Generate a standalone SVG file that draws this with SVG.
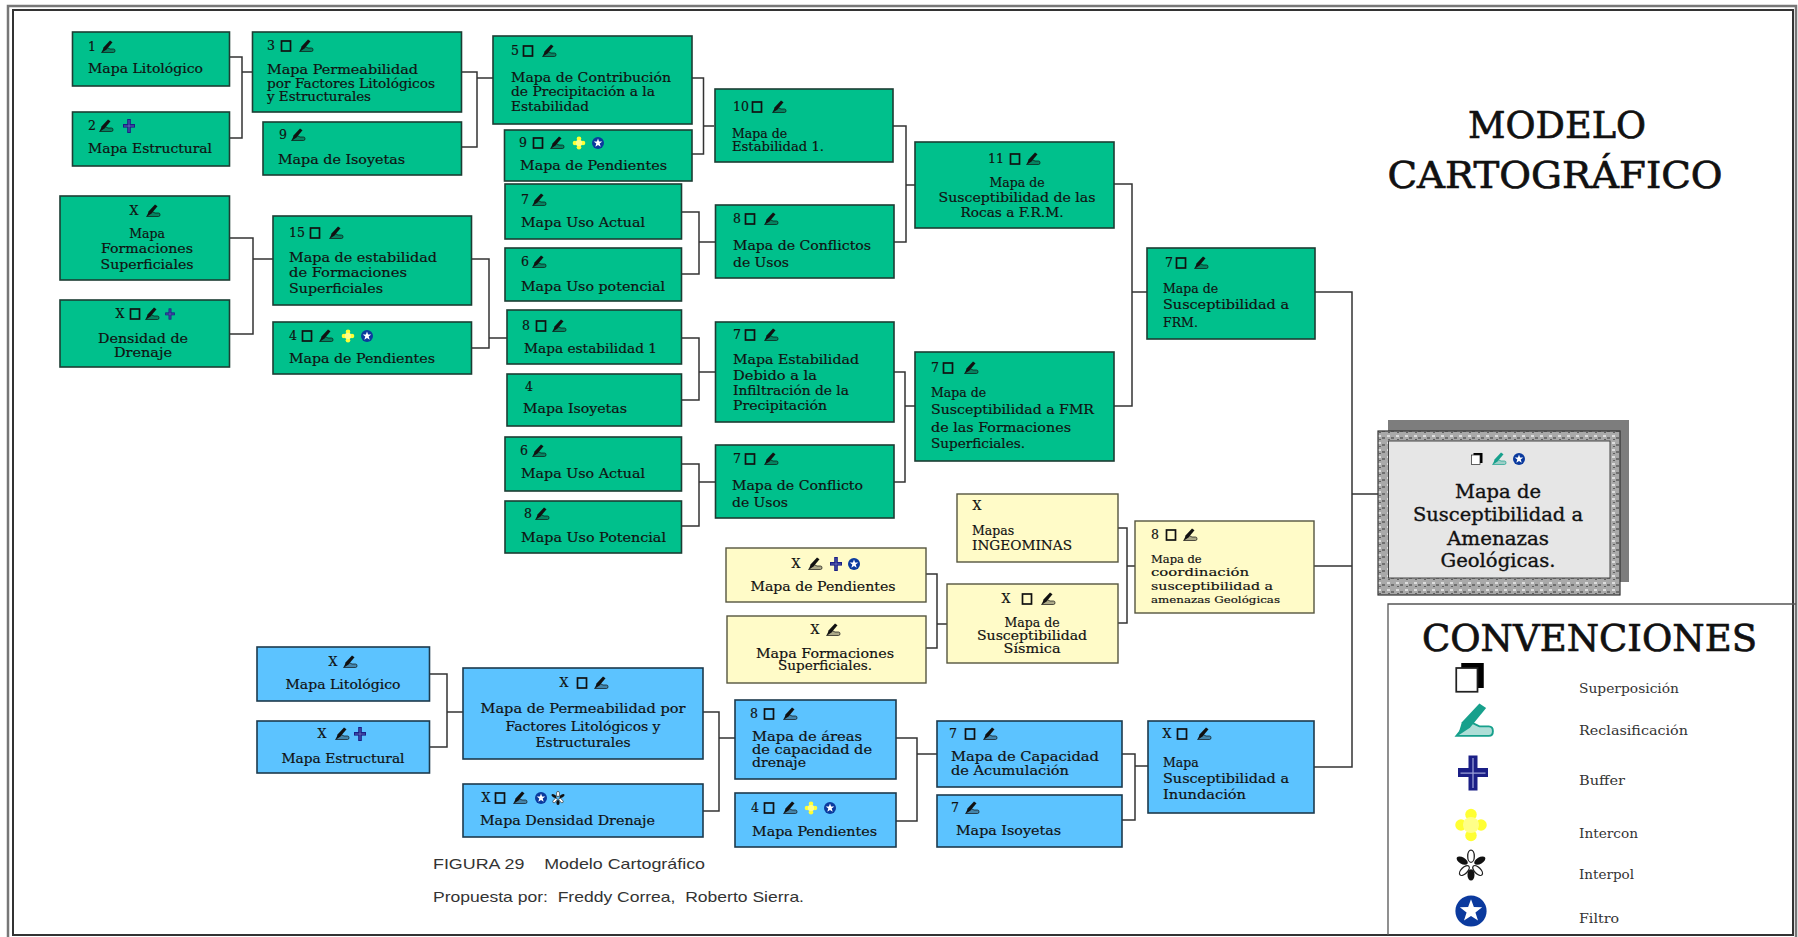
<svg xmlns="http://www.w3.org/2000/svg" width="1798" height="937" viewBox="0 0 1798 937">
<style>
text{font-family:"DejaVu Serif","Liberation Serif",serif;fill:#111;font-size:12.5px;stroke:#111;stroke-width:0.18px}
.m{text-anchor:middle}
.g{fill:#00C08C;stroke:#1c3d33;stroke-width:1.6}
.b{fill:#5CC3FF;stroke:#1d3a4d;stroke-width:1.6}
.y{fill:#FFFBC8;stroke:#55553f;stroke-width:1.4}
.c{fill:none;stroke:#333;stroke-width:1.5}
.t{font-size:38px;stroke-width:0.7px}
.l{font-size:12px;fill:#333;stroke:none}
.cap{font-family:"Liberation Sans",Arial,sans-serif;font-size:15px;fill:#333;stroke:none}
.main{font-size:18.5px;stroke-width:0.35px}
</style>
<defs>
<g id="sup"><rect x="-4.5" y="-5" width="9" height="10" fill="none" stroke="#111" stroke-width="1.7"/></g>
<g id="sup2"><rect x="-3.5" y="-6" width="9" height="10" fill="#000"/><rect x="-5.5" y="-4" width="8.5" height="9.5" fill="#fff" stroke="#222" stroke-width="0.7"/></g>
<g id="rc"><path d="M-6.500 5.500H5.500Q7 5.500 7 3.800Q7 2 5.500 2H2L-1 0.500L-4.500 3Z" fill="currentColor" fill-opacity="0.35" stroke="currentColor" stroke-width="0.7"/><path d="M-6 5.500L-4.500 0.500L2 -6.500L4.500 -4.800L-1.500 2.500Z" fill="currentColor"/></g>
<g id="bf"><rect x="-1.800" y="-7" width="3.600" height="14" fill="#1b1f86"/><rect x="-6" y="-2" width="12" height="3.600" fill="#1b1f86"/><path d="M0 -6V6M-5 0H5" stroke="#9aa0d8" stroke-width="0.5"/></g>
<g id="is"><circle cx="0" cy="-4.200" r="2.300" fill="#FFFF33"/><circle cx="0" cy="4.200" r="2.300" fill="#FFFF33"/><circle cx="-4" cy="0" r="2.300" fill="#FFFF33"/><circle cx="4" cy="0" r="2.300" fill="#FFFF33"/><circle r="3.200" fill="#FFFF88"/></g>
<g id="ip"><ellipse cx="0" cy="-4" rx="1.500" ry="2.800" fill="#fff" stroke="#222" stroke-width="0.6"/><ellipse cx="-4" cy="-2" rx="2.800" ry="1.500" fill="#111" transform="rotate(30 -4 -2)"/><ellipse cx="4" cy="-2" rx="2.800" ry="1.500" fill="#111" transform="rotate(-30 4 -2)"/><ellipse cx="-3" cy="2.500" rx="2.800" ry="1.400" fill="#fff" stroke="#222" stroke-width="0.6" transform="rotate(-45 -3 2.500)"/><ellipse cx="3" cy="2.500" rx="2.800" ry="1.400" fill="#fff" stroke="#222" stroke-width="0.6" transform="rotate(45 3 2.500)"/><ellipse cx="0" cy="4.500" rx="1.600" ry="2.600" fill="#111"/></g>
<g id="fi"><circle r="6" fill="#0b3a9e"/><polygon points="0,-4.500 1.100,-1.500 4.300,-1.400 1.700,0.600 2.700,3.700 0,1.900 -2.700,3.700 -1.700,0.600 -4.300,-1.400 -1.100,-1.500" fill="#fff"/></g>
<pattern id="tex" width="9" height="7" patternUnits="userSpaceOnUse"><rect width="9" height="7" fill="#a9a9a9"/><rect x="1" y="1" width="3" height="2" fill="#dcdcdc"/><rect x="5" y="3" width="3" height="2" fill="#707070"/><rect x="2" y="5" width="2" height="1" fill="#606060"/></pattern>
</defs>
<rect width="1798" height="937" fill="#fff"/>
<g id="frame" fill="none">
<rect x="8" y="6" width="1788" height="940" stroke="#777" stroke-width="2.500"/>
<rect x="13" y="10" width="1780" height="925" stroke="#333" stroke-width="2"/>
</g>
<g id="connectors">
<path class="c" d="M229.500 57H242V138H229.500M242 72H252.500"/>
<path class="c" d="M461.500 72H477V147H461.500M477 78H493"/>
<path class="c" d="M692 78H703.500V154H692M703.500 126H714"/>
<path class="c" d="M229.500 238H253V334H229.500M253 259H273"/>
<path class="c" d="M471.500 259H489V348H471.500M489 338H507"/>
<path class="c" d="M681 212H699V274H681M699 242H715"/>
<path class="c" d="M681 338H699V400H681M699 372H715"/>
<path class="c" d="M681 464H699V526H681M699 482H715"/>
<path class="c" d="M893 126H906V242H894M906 185H915"/>
<path class="c" d="M894 372H905V482H894M905 406H915"/>
<path class="c" d="M1114 184H1132V406H1114M1132 292H1147"/>
<path class="c" d="M926 574H937V648H926M937 624H947"/>
<path class="c" d="M1118 528H1127V623H1118M1127 566H1135"/>
<path class="c" d="M1122 754H1135V820H1122M1135 766H1148"/>
<path class="c" d="M896 738H917V821H896M917 754H937"/>
<path class="c" d="M429.500 674H447V747H429.500M447 712H463"/>
<path class="c" d="M703 712H719V811H703M719 738H735"/>
<path class="c" d="M1315 292H1352V767H1314M1314 566H1352M1352 494H1378"/>
</g>
<g id="n1"><rect class="g" x="72.500" y="32" width="157" height="54"/><text x="88" y="51">1</text><use href="#rc" x="108" y="47" color="#111"/><text x="88" y="73" textLength="115" lengthAdjust="spacingAndGlyphs">Mapa Litológico</text></g>
<g id="n2"><rect class="g" x="72.500" y="112" width="157" height="54"/><text x="88" y="130">2</text><use href="#rc" x="106" y="126" color="#111"/><use href="#bf" x="129" y="126"/><text x="88" y="153" textLength="124" lengthAdjust="spacingAndGlyphs">Mapa Estructural</text></g>
<g id="n3"><rect class="g" x="252.500" y="32" width="209" height="80"/><text x="267" y="50">3</text><use href="#sup" x="286" y="46"/><use href="#rc" x="306" y="46" color="#111"/><text x="267" y="74" textLength="151" lengthAdjust="spacingAndGlyphs">Mapa Permeabilidad</text><text x="267" y="88" textLength="168" lengthAdjust="spacingAndGlyphs">por Factores Litológicos</text><text x="267" y="101" textLength="104" lengthAdjust="spacingAndGlyphs">y Estructurales</text></g>
<g id="n4"><rect class="g" x="263" y="122" width="198.500" height="53"/><text x="279" y="139">9</text><use href="#rc" x="298" y="135" color="#111"/><text x="278" y="164" textLength="127" lengthAdjust="spacingAndGlyphs">Mapa de Isoyetas</text></g>
<g id="n5"><rect class="g" x="493" y="36" width="199" height="88"/><text x="511" y="55">5</text><use href="#sup" x="528" y="51"/><use href="#rc" x="549" y="51" color="#111"/><text x="511" y="82" textLength="160" lengthAdjust="spacingAndGlyphs">Mapa de Contribución</text><text x="511" y="96" textLength="144" lengthAdjust="spacingAndGlyphs">de Precipitación a la</text><text x="511" y="111" textLength="78" lengthAdjust="spacingAndGlyphs">Estabilidad</text></g>
<g id="n6"><rect class="g" x="504.500" y="130" width="187.500" height="51"/><text x="519" y="147">9</text><use href="#sup" x="538" y="143"/><use href="#rc" x="557" y="143" color="#111"/><use href="#is" x="579" y="143"/><use href="#fi" x="598" y="143"/><text x="520" y="170" textLength="147" lengthAdjust="spacingAndGlyphs">Mapa de Pendientes</text></g>
<g id="n7"><rect class="g" x="505" y="184" width="176.500" height="55"/><text x="521" y="204">7</text><use href="#rc" x="539" y="200" color="#111"/><text x="521" y="227" textLength="124" lengthAdjust="spacingAndGlyphs">Mapa Uso Actual</text></g>
<g id="n8"><rect class="g" x="505" y="248" width="176.500" height="53"/><text x="521" y="266">6</text><use href="#rc" x="539" y="262" color="#111"/><text x="521" y="291" textLength="144" lengthAdjust="spacingAndGlyphs">Mapa Uso potencial</text></g>
<g id="n9"><rect class="g" x="507" y="310" width="174.500" height="54"/><text x="522" y="330">8</text><use href="#sup" x="541" y="326"/><use href="#rc" x="559" y="326" color="#111"/><text x="524" y="353" textLength="133" lengthAdjust="spacingAndGlyphs">Mapa estabilidad 1</text></g>
<g id="n10"><rect class="g" x="507" y="374" width="174.500" height="52"/><text x="525" y="391">4</text><text x="523" y="413" textLength="104" lengthAdjust="spacingAndGlyphs">Mapa Isoyetas</text></g>
<g id="n11"><rect class="g" x="505" y="437" width="176.500" height="54"/><text x="520" y="455">6</text><use href="#rc" x="539" y="451" color="#111"/><text x="521" y="478" textLength="124" lengthAdjust="spacingAndGlyphs">Mapa Uso Actual</text></g>
<g id="n12"><rect class="g" x="505" y="501" width="176.500" height="52"/><text x="524" y="518">8</text><use href="#rc" x="542" y="514" color="#111"/><text x="521" y="542" textLength="145" lengthAdjust="spacingAndGlyphs">Mapa Uso Potencial</text></g>
<g id="n13"><rect class="g" x="60" y="196" width="169.500" height="84"/><text x="134" y="215" class="m">X</text><use href="#rc" x="153" y="211" color="#111"/><text x="147" y="238" class="m">Mapa</text><text x="147" y="253" class="m" textLength="92" lengthAdjust="spacingAndGlyphs">Formaciones</text><text x="147" y="269" class="m" textLength="93" lengthAdjust="spacingAndGlyphs">Superficiales</text></g>
<g id="n14"><rect class="g" x="60" y="300" width="169.500" height="67"/><text x="120" y="318" class="m">X</text><use href="#sup" x="135" y="314"/><use href="#rc" x="152" y="314" color="#111"/><use href="#bf" transform="translate(170 314) scale(0.8)"/><text x="143" y="343" class="m" textLength="90" lengthAdjust="spacingAndGlyphs">Densidad de</text><text x="143" y="357" class="m" textLength="58" lengthAdjust="spacingAndGlyphs">Drenaje</text></g>
<g id="n15"><rect class="g" x="273" y="216" width="198.500" height="89"/><text x="289" y="237">15</text><use href="#sup" x="315" y="233"/><use href="#rc" x="336" y="233" color="#111"/><text x="289" y="262" textLength="148" lengthAdjust="spacingAndGlyphs">Mapa de estabilidad</text><text x="289" y="277" textLength="118" lengthAdjust="spacingAndGlyphs">de Formaciones</text><text x="289" y="293" textLength="94" lengthAdjust="spacingAndGlyphs">Superficiales</text></g>
<g id="n16"><rect class="g" x="273" y="322" width="198.500" height="52"/><text x="289" y="340">4</text><use href="#sup" x="307" y="336"/><use href="#rc" x="326" y="336" color="#111"/><use href="#is" x="348" y="336"/><use href="#fi" x="367" y="336"/><text x="289" y="363" textLength="146" lengthAdjust="spacingAndGlyphs">Mapa de Pendientes</text></g>
<g id="n17"><rect class="g" x="715" y="89" width="178" height="73"/><text x="733" y="111">10</text><use href="#sup" x="757" y="107"/><use href="#rc" x="779" y="107" color="#111"/><text x="732" y="138">Mapa de</text><text x="732" y="151" textLength="92" lengthAdjust="spacingAndGlyphs">Estabilidad 1.</text></g>
<g id="n18"><rect class="g" x="715.500" y="205" width="178.500" height="73"/><text x="733" y="223">8</text><use href="#sup" x="750" y="219"/><use href="#rc" x="771" y="219" color="#111"/><text x="733" y="250" textLength="138" lengthAdjust="spacingAndGlyphs">Mapa de Conflictos</text><text x="733" y="267" textLength="56" lengthAdjust="spacingAndGlyphs">de Usos</text></g>
<g id="n19"><rect class="g" x="715.500" y="322" width="178.500" height="100"/><text x="733" y="339">7</text><use href="#sup" x="750" y="335"/><use href="#rc" x="771" y="335" color="#111"/><text x="733" y="364" textLength="126" lengthAdjust="spacingAndGlyphs">Mapa Estabilidad</text><text x="733" y="380" textLength="84" lengthAdjust="spacingAndGlyphs">Debido a la</text><text x="733" y="395" textLength="116" lengthAdjust="spacingAndGlyphs">Infiltración de la</text><text x="733" y="410" textLength="94" lengthAdjust="spacingAndGlyphs">Precipitación</text></g>
<g id="n20"><rect class="g" x="715.500" y="445" width="178.500" height="73"/><text x="733" y="463">7</text><use href="#sup" x="750" y="459"/><use href="#rc" x="771" y="459" color="#111"/><text x="732" y="490" textLength="131" lengthAdjust="spacingAndGlyphs">Mapa de Conflicto</text><text x="732" y="507" textLength="56" lengthAdjust="spacingAndGlyphs">de Usos</text></g>
<g id="n21"><rect class="g" x="915" y="142" width="199" height="86"/><text x="988" y="163">11</text><use href="#sup" x="1015" y="159"/><use href="#rc" x="1033" y="159" color="#111"/><text x="1017" y="187" class="m">Mapa de</text><text x="1017" y="202" class="m" textLength="157" lengthAdjust="spacingAndGlyphs">Susceptibilidad de las</text><text x="1012" y="217" class="m" textLength="103" lengthAdjust="spacingAndGlyphs">Rocas a F.R.M.</text></g>
<g id="n22"><rect class="g" x="915" y="352" width="199" height="109"/><text x="931" y="372">7</text><use href="#sup" x="948" y="368"/><use href="#rc" x="971" y="368" color="#111"/><text x="931" y="397">Mapa de</text><text x="931" y="414" textLength="163" lengthAdjust="spacingAndGlyphs">Susceptibilidad a FMR</text><text x="931" y="432" textLength="140" lengthAdjust="spacingAndGlyphs">de las Formaciones</text><text x="931" y="448" textLength="94" lengthAdjust="spacingAndGlyphs">Superficiales.</text></g>
<g id="n23"><rect class="g" x="1147" y="248" width="168" height="91"/><text x="1165" y="267">7</text><use href="#sup" x="1181" y="263"/><use href="#rc" x="1201" y="263" color="#111"/><text x="1163" y="293">Mapa de</text><text x="1163" y="309" textLength="126" lengthAdjust="spacingAndGlyphs">Susceptibilidad a</text><text x="1163" y="327">FRM.</text></g>
<g id="n24"><rect class="y" x="726" y="548" width="200" height="54"/><text x="796" y="568" class="m">X</text><use href="#rc" x="815" y="564" color="#111"/><use href="#bf" x="836" y="564"/><use href="#fi" x="854" y="564"/><text x="823" y="591" class="m" textLength="145" lengthAdjust="spacingAndGlyphs">Mapa de Pendientes</text></g>
<g id="n25"><rect class="y" x="727" y="616" width="199" height="67"/><text x="815" y="634" class="m">X</text><use href="#rc" x="833" y="630" color="#111"/><text x="825" y="658" class="m" textLength="138" lengthAdjust="spacingAndGlyphs">Mapa Formaciones</text><text x="825" y="670" class="m" textLength="94" lengthAdjust="spacingAndGlyphs">Superficiales.</text></g>
<g id="n26"><rect class="y" x="957" y="494" width="161" height="68"/><text x="977" y="510" class="m">X</text><text x="972" y="535">Mapas</text><text x="972" y="550" textLength="100" lengthAdjust="spacingAndGlyphs">INGEOMINAS</text></g>
<g id="n27"><rect class="y" x="947" y="584" width="171" height="79"/><text x="1006" y="603" class="m">X</text><use href="#sup" x="1027" y="599"/><use href="#rc" x="1048" y="599" color="#111"/><text x="1032" y="627" class="m">Mapa de</text><text x="1032" y="640" class="m" textLength="110" lengthAdjust="spacingAndGlyphs">Susceptibilidad</text><text x="1032" y="653" class="m" textLength="57" lengthAdjust="spacingAndGlyphs">Sísmica</text></g>
<g id="n28"><rect class="y" x="1135" y="521" width="179" height="92"/><text x="1155" y="539" class="m">8</text><use href="#sup" x="1171" y="535"/><use href="#rc" x="1190" y="535" color="#111"/><text x="1151" y="563" style="font-size:11.500px">Mapa de</text><text x="1151" y="576" style="font-size:11.500px" textLength="98" lengthAdjust="spacingAndGlyphs">coordinación</text><text x="1151" y="590" style="font-size:11.500px" textLength="122" lengthAdjust="spacingAndGlyphs">susceptibilidad a</text><text x="1151" y="603" style="font-size:10px" textLength="129" lengthAdjust="spacingAndGlyphs">amenazas Geológicas</text></g>
<g id="n29"><rect class="b" x="257" y="647" width="172.500" height="54"/><text x="333" y="666" class="m">X</text><use href="#rc" x="350" y="662" color="#111"/><text x="343" y="689" class="m" textLength="115" lengthAdjust="spacingAndGlyphs">Mapa Litológico</text></g>
<g id="n30"><rect class="b" x="257" y="721" width="172.500" height="52"/><text x="322" y="738" class="m">X</text><use href="#rc" x="342" y="734" color="#111"/><use href="#bf" x="360" y="734"/><text x="343" y="763" class="m" textLength="123" lengthAdjust="spacingAndGlyphs">Mapa Estructural</text></g>
<g id="n31"><rect class="b" x="463" y="668" width="240" height="91"/><text x="564" y="687" class="m">X</text><use href="#sup" x="582" y="683"/><use href="#rc" x="601" y="683" color="#111"/><text x="583" y="713" class="m" textLength="205" lengthAdjust="spacingAndGlyphs">Mapa de Permeabilidad por</text><text x="583" y="731" class="m" textLength="155" lengthAdjust="spacingAndGlyphs">Factores Litológicos y</text><text x="583" y="747" class="m" textLength="95" lengthAdjust="spacingAndGlyphs">Estructurales</text></g>
<g id="n32"><rect class="b" x="463" y="784" width="240" height="53"/><text x="486" y="802" class="m">X</text><use href="#sup" x="500" y="798"/><use href="#rc" x="520" y="798" color="#111"/><use href="#fi" x="541" y="798"/><use href="#ip" x="558" y="798"/><text x="480" y="825" textLength="175" lengthAdjust="spacingAndGlyphs">Mapa Densidad Drenaje</text></g>
<g id="n33"><rect class="b" x="735" y="700" width="161" height="79"/><text x="754" y="718" class="m">8</text><use href="#sup" x="769" y="714"/><use href="#rc" x="790" y="714" color="#111"/><text x="752" y="741" textLength="110" lengthAdjust="spacingAndGlyphs">Mapa de áreas</text><text x="752" y="754" textLength="120" lengthAdjust="spacingAndGlyphs">de capacidad de</text><text x="752" y="767" textLength="54" lengthAdjust="spacingAndGlyphs">drenaje</text></g>
<g id="n34"><rect class="b" x="735" y="793" width="161" height="54"/><text x="755" y="812" class="m">4</text><use href="#sup" x="769" y="808"/><use href="#rc" x="790" y="808" color="#111"/><use href="#is" x="811" y="808"/><use href="#fi" x="830" y="808"/><text x="752" y="836" textLength="125" lengthAdjust="spacingAndGlyphs">Mapa Pendientes</text></g>
<g id="n35"><rect class="b" x="937" y="721" width="185" height="66"/><text x="953" y="738" class="m">7</text><use href="#sup" x="970" y="734"/><use href="#rc" x="990" y="734" color="#111"/><text x="951" y="761" textLength="148" lengthAdjust="spacingAndGlyphs">Mapa de Capacidad</text><text x="951" y="775" textLength="118" lengthAdjust="spacingAndGlyphs">de Acumulación</text></g>
<g id="n36"><rect class="b" x="937" y="795" width="185" height="52"/><text x="955" y="812" class="m">7</text><use href="#rc" x="972" y="808" color="#111"/><text x="956" y="835" textLength="105" lengthAdjust="spacingAndGlyphs">Mapa Isoyetas</text></g>
<g id="n37"><rect class="b" x="1148" y="721" width="166" height="92"/><text x="1167" y="738" class="m">X</text><use href="#sup" x="1182" y="734"/><use href="#rc" x="1204" y="734" color="#111"/><text x="1163" y="767">Mapa</text><text x="1163" y="783" textLength="126" lengthAdjust="spacingAndGlyphs">Susceptibilidad a</text><text x="1163" y="799" textLength="83" lengthAdjust="spacingAndGlyphs">Inundación</text></g>
<g id="main">
<rect x="1388" y="420" width="241" height="162" fill="#7d7d7d"/>
<rect x="1378" y="431" width="242" height="164" fill="url(#tex)" stroke="#333" stroke-width="1.200"/>
<rect x="1388.500" y="441" width="221.500" height="137" fill="#E6E6E6" stroke="#444" stroke-width="1"/>
<use href="#sup2" x="1477" y="459"/><use href="#rc" x="1499" y="459" color="#17a08c"/><use href="#fi" x="1519" y="459"/>
<text class="main m" x="1498" y="498" textLength="86" lengthAdjust="spacingAndGlyphs">Mapa de</text>
<text class="main m" x="1498" y="521" textLength="170" lengthAdjust="spacingAndGlyphs">Susceptibilidad a</text>
<text class="main m" x="1498" y="545" textLength="102" lengthAdjust="spacingAndGlyphs">Amenazas</text>
<text class="main m" x="1498" y="567" textLength="115" lengthAdjust="spacingAndGlyphs">Geológicas.</text>
</g>
<g id="title"><text class="t m" x="1557" y="138" textLength="178" lengthAdjust="spacingAndGlyphs">MODELO</text><text class="t m" x="1555" y="188" textLength="335" lengthAdjust="spacingAndGlyphs">CARTOGRÁFICO</text></g>
<g id="caption"><text class="cap" x="433" y="869" textLength="272" lengthAdjust="spacingAndGlyphs" xml:space="preserve">FIGURA 29    Modelo Cartográfico</text><text class="cap" x="433" y="902" textLength="371" lengthAdjust="spacingAndGlyphs" xml:space="preserve">Propuesta por:  Freddy Correa,  Roberto Sierra.</text></g>
<g id="legend">
<path d="M1388 935V604H1796" fill="none" stroke="#555" stroke-width="1.300"/>
<text class="t" x="1422" y="651" textLength="335" lengthAdjust="spacingAndGlyphs">CONVENCIONES</text>
<use href="#sup2" transform="translate(1470 678) scale(2.500)"/>
<use href="#rc" transform="translate(1474 721) scale(2.700)" color="#17a08c"/>
<use href="#bf" transform="translate(1473 773) scale(2.500)"/>
<use href="#is" transform="translate(1471 825) scale(2.500)"/>
<use href="#ip" transform="translate(1471 865) scale(2.200)"/>
<use href="#fi" transform="translate(1471 911) scale(2.600)"/>
<text class="l" x="1579" y="693" textLength="100" lengthAdjust="spacingAndGlyphs">Superposición</text>
<text class="l" x="1579" y="735" textLength="109" lengthAdjust="spacingAndGlyphs">Reclasificación</text>
<text class="l" x="1579" y="785" textLength="46" lengthAdjust="spacingAndGlyphs">Buffer</text>
<text class="l" x="1579" y="838" textLength="59" lengthAdjust="spacingAndGlyphs">Intercon</text>
<text class="l" x="1579" y="879" textLength="55" lengthAdjust="spacingAndGlyphs">Interpol</text>
<text class="l" x="1579" y="923" textLength="40" lengthAdjust="spacingAndGlyphs">Filtro</text>
</g>
</svg>
